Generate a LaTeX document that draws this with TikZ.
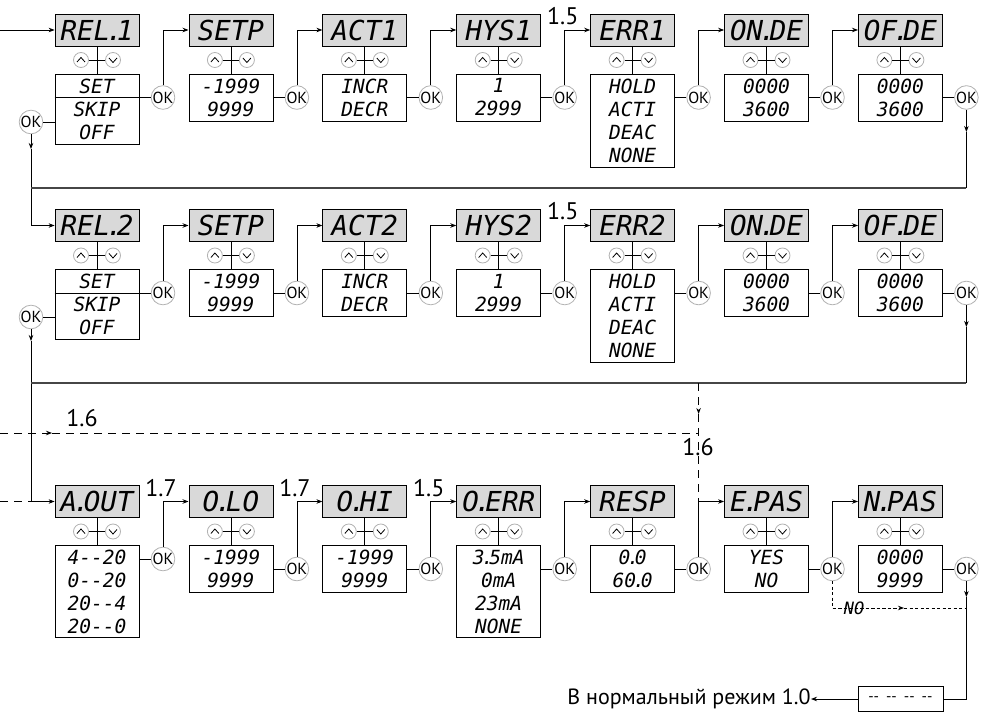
\documentclass[tikz,border=0pt]{standalone}
\usepackage{fontspec}
\setmainfont{PT Sans}
\newfontfamily\lcdfam{DejaVu Sans Mono}
\usetikzlibrary{arrows.meta}
\newcommand\dpt{\kern-0.14em.\kern-0.22em}
\newcommand\hdrfont{\lcdfam\itshape\fontsize{27.5}{27.5}\selectfont}
\newcommand\valfont{\lcdfam\itshape\fontsize{19.5}{23}\selectfont}
\newcommand\okfont{\fontsize{16}{16}\selectfont}
\newcommand\lblfont{\fontsize{24}{24}\selectfont}
\tikzset{
  hdr/.style={draw, fill=gray!30, minimum width=84pt, minimum height=32pt, inner sep=0pt, font=\hdrfont},
  valbox/.style={draw, fill=white, minimum width=84pt, inner sep=0pt, align=center, font=\valfont},
  btn/.style={circle, draw=gray!60, minimum size=15pt, inner sep=0pt, fill=white},
  okbtn/.style={circle, draw=gray!60, minimum size=22pt, inner sep=0pt, fill=white, font=\okfont},
  arr/.style={-{Stealth[length=6pt,width=4.5pt]}},
  hline/.style={line width=1.4pt, gray!55!black},
  dashln/.style={dash pattern=on 8pt off 6pt, line width=0.9pt},
  dotln/.style={dash pattern=on 3pt off 2.5pt, line width=1pt},
  lbl/.style={font=\lblfont, inner sep=0pt},
  chev/.style={line width=0.8pt},
}
% #1 prefix, #2 x, #3 y (header centre), #4 header text, #5 box height, #6 box text, #7 OK offset
\newcommand\menu[7]{%
  \node[hdr] (#1h) at (#2,#3) {#4};
  \draw (#1h.south) -- ({#2},{#3+44});
  \node[btn] (#1u) at ({#2-16},{#3+30}) {};
  \node[btn] (#1d) at ({#2+16},{#3+30}) {};
  \draw (#1u) -- (#1d);
  \draw[chev] ([shift={(-4,2)}]#1u.center) -- ([shift={(0,-2.5)}]#1u.center) -- ([shift={(4,2)}]#1u.center);
  \draw[chev] ([shift={(-4,-2)}]#1d.center) -- ([shift={(0,2.5)}]#1d.center) -- ([shift={(4,-2)}]#1d.center);
  \node[valbox, minimum height=#5pt] (#1v) at (#2,{#3+44+#5/2}) {#6};
  \node[okbtn] (#1ok) at ({#2+66},{#3+#7}) {OK};
  \draw (#1v.east |- #1ok) -- (#1ok);
}
\begin{document}
\begin{tikzpicture}[x=1pt, y=-1pt, line width=0.8pt]
\useasboundingbox (0,0) rectangle (989,722);

% ---------- row 1 ----------
\menu{rel1}{97}{30}{REL\dpt 1}{70}{SET\\SKIP\\OFF}{67.5}
\menu{setp1}{230.9}{30}{SETP}{47}{-1999\\9999}{67.5}
\menu{act1}{364.8}{30}{ACT1}{47}{INCR\\DECR}{67.5}
\menu{hys1}{498.7}{30}{HYS1}{47}{1\\2999}{67.5}
\menu{err1}{632.6}{30}{ERR1}{93}{HOLD\\ACTI\\DEAC\\NONE}{67.5}
\menu{onde1}{766.5}{30}{ON\dpt DE}{47}{0000\\3600}{67.5}
\menu{ofde1}{900.4}{30}{OF\dpt DE}{47}{0000\\3600}{67.5}
\draw ([yshift=-24pt]rel1v.north west) -- ([yshift=-24pt]rel1v.north east);
\node[okbtn] (rel1okl) at (31,122) {OK};
\draw (rel1v.west |- rel1okl) -- (rel1okl);

% ---------- row 2 ----------
\menu{rel2}{97}{225.5}{REL\dpt 2}{70}{SET\\SKIP\\OFF}{67.5}
\menu{setp2}{230.9}{225.5}{SETP}{47}{-1999\\9999}{67.5}
\menu{act2}{364.8}{225.5}{ACT2}{47}{INCR\\DECR}{67.5}
\menu{hys2}{498.7}{225.5}{HYS2}{47}{1\\2999}{67.5}
\menu{err2}{632.6}{225.5}{ERR2}{93}{HOLD\\ACTI\\DEAC\\NONE}{67.5}
\menu{onde2}{766.5}{225.5}{ON\dpt DE}{47}{0000\\3600}{67.5}
\menu{ofde2}{900.4}{225.5}{OF\dpt DE}{47}{0000\\3600}{67.5}
\draw ([yshift=-24pt]rel2v.north west) -- ([yshift=-24pt]rel2v.north east);
\node[okbtn] (rel2okl) at (31,317) {OK};
\draw (rel2v.west |- rel2okl) -- (rel2okl);

% ---------- row 3 ----------
\menu{aout}{97}{501.5}{A\dpt OUT}{92}{4-{}-20\\0-{}-20\\20-{}-4\\20-{}-0}{57.5}
\menu{qlo}{230.9}{501.5}{O\dpt LO}{47}{-1999\\9999}{67.5}
\menu{qhi}{364.8}{501.5}{O\dpt HI}{47}{-1999\\9999}{67.5}
\menu{qerr}{498.7}{501.5}{O\dpt ERR}{92}{3\dpt 5mA\\0mA\\23mA\\NONE}{67.5}
\menu{resp}{632.6}{501.5}{RESP}{47}{0\dpt 0\\60\dpt 0}{67.5}
\menu{epas}{766.5}{501.5}{E\dpt PAS}{47}{YES\\NO}{67.5}
\menu{npas}{900.4}{501.5}{N\dpt PAS}{47}{0000\\9999}{67.5}

% ---------- connectors inside rows ----------
\foreach \a/\b in {rel1/setp1, setp1/act1, act1/hys1, hys1/err1, err1/onde1, onde1/ofde1,
                   rel2/setp2, setp2/act2, act2/hys2, hys2/err2, err2/onde2, onde2/ofde2,
                   aout/qlo, qlo/qhi, qhi/qerr, qerr/resp, resp/epas, epas/npas}
  \draw[arr] (\a ok.north) |- (\b h.west);

% labels
\node[lbl] (l1) at (562.7,16) {1.5};
\node[lbl] (l2) at (562.7,211.5) {1.5};
\node[lbl] (l3) at (161,488) {1.7};
\node[lbl] (l4) at (294.9,488) {1.7};
\node[lbl] (l5) at (428.8,488) {1.5};

% entry
\coordinate (in1) at (0,30);
\draw[arr] (in1) -- (rel1h.west);

% row 1 -> row 2
\coordinate (a1L) at (31,149);
\coordinate (c1L) at (31,188);
\coordinate (a1R) at (966.4,132);
\coordinate (c1R) at (966.4,188);
\draw[arr] (rel1okl.south) -- (a1L);
\draw[arr] (a1L) |- (rel2h.west);
\draw[arr] (ofde1ok.south) -- (a1R);
\draw (a1R) -- (c1R);
\draw[hline] (c1R) -- (c1L);

% row 2 -> row 3
\coordinate (a2L) at (31,341);
\coordinate (c2L) at (31,383);
\coordinate (a2R) at (966.4,327);
\coordinate (c2R) at (966.4,383);
\draw[arr] (rel2okl.south) -- (a2L);
\draw[arr] (a2L) |- (aouth.west);
\draw[arr] (ofde2ok.south) -- (a2R);
\draw (a2R) -- (c2R);
\draw[hline] (c2R) -- (c2L);

% dashed 1.6 paths
\coordinate (d1s) at (0,433);
\coordinate (d1a) at (52,433);
\coordinate (dj) at (698.6,433);
\coordinate (d2s) at (698.6,383);
\coordinate (d2a) at (698.6,414);
\coordinate (d2e) at (698.6,501.5);
\draw[dashln, arr] (d1s) -- (d1a);
\draw[dashln] (d1a) -- (dj);
\draw[dashln, arr] (d2s) -- (d2a);
\draw[dashln] (d2a) -- (d2e);
\node[lbl] (l6) at (82,418) {1.6};
\node[lbl] (l7) at (698,447) {1.6};
\coordinate (d3s) at (0,501.5);
\coordinate (d3e) at (31,501.5);
\draw[dashln] (d3s) -- (d3e);

% NO path (dotted)
\coordinate (n1) at (832.5,608);
\coordinate (n2) at (904,608);
\coordinate (n3) at (966.4,608);
\draw[dotln] (epasok.south) -- (n1) -- (n2);
\draw[dotln, arr] (n1) -- (n2);
\draw[dotln] (n2) -- (n3);
\node[font=\lcdfam\itshape\fontsize{17}{17}\selectfont, inner sep=0pt] (nolbl) at (854,608) {NO};

% exit
\coordinate (x1) at (966.4,597);
\node[draw, minimum width=85pt, minimum height=25pt, inner sep=0pt, font=\fontsize{15}{15}\selectfont] (dashbox) at (900.4,699) {-{}-\hspace{7pt}-{}-\hspace{7pt}-{}-\hspace{7pt}-{}-};
\draw[arr] (npasok.south) -- (x1);
\draw (x1) |- (dashbox.east);
\node[font=\fontsize{22}{22}\selectfont, inner sep=0pt, anchor=east] (normal) at (811,699) {В нормальный режим 1.0};
\draw[arr] (dashbox.west) -- (normal.east);

\end{tikzpicture}
\end{document}
